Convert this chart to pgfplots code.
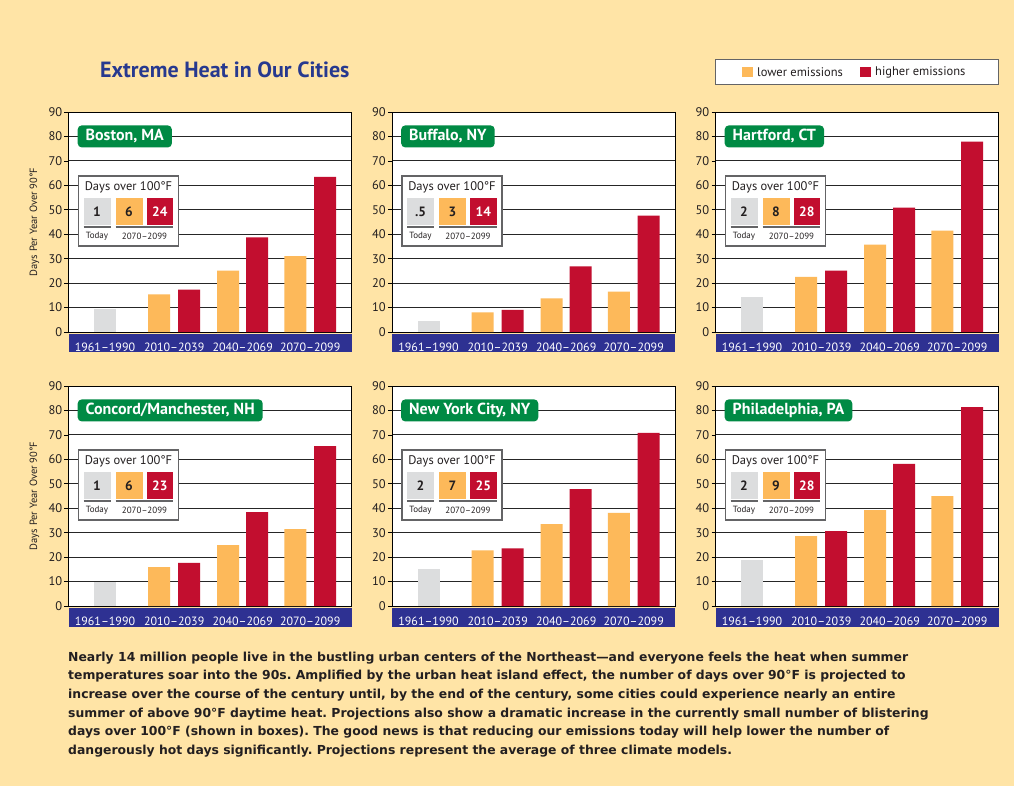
\documentclass[border=0pt]{standalone}
\usepackage{pgfplots}
\pgfplotsset{compat=1.18}
\usepackage{fontspec}
\setmainfont{PT Sans}
\newfontfamily\parafont{DejaVu Sans}

\definecolor{bg}{RGB}{255,228,166}
\definecolor{bandblue}{RGB}{46,49,146}
\definecolor{titleblue}{RGB}{39,57,143}
\definecolor{labelgreen}{RGB}{0,138,68}
\definecolor{barorange}{RGB}{253,185,90}
\definecolor{barred}{RGB}{194,14,47}
\definecolor{bargray}{RGB}{220,221,222}
\definecolor{textdark}{RGB}{35,31,32}
\definecolor{boxgray}{RGB}{100,100,102}

\newcommand{\fs}[1]{\fontsize{#1}{#1}\selectfont}

\pgfplotsset{
  panel/.style={
    scale only axis, width=283bp, height=220bp,
    xmin=0, xmax=283, ymin=0, ymax=90,
    ytick={0,10,...,90},
    xtick={36.5,105.7,174.2,241.7},
    xticklabels={1961--1990,2010--2039,2040--2069,2070--2099},
    xtick style={draw=none},
    ytick pos=left,
    tick align=outside, major tick length=4bp,
    ytick style={black, line width=0.8bp},
    ymajorgrids, grid style={black!85, line width=1bp},
    axis line style={black, line width=1bp},
    axis background/.style={fill=white},
    /pgf/number format/assume math mode=true,
    yticklabel style={font=\fs{12.5bp}, text=textdark, inner sep=2bp},
    xticklabel style={font=\fs{12bp}, text=white, anchor=base, yshift=-15.5bp, inner sep=0pt},
    ylabel style={font=\fs{10.5bp}, text=textdark},
    ylabel shift=4bp,
    clip=false,
  },
  cbar/.style={ybar, bar width=22, bar shift=0pt, draw=none, fill=#1},
}

% gray (1961-1990), lower emissions x3, higher emissions x3
\newcommand{\cityplots}[7]{%
  \addplot[cbar=bargray] coordinates {(36.5,#1)};
  \addplot[cbar=barorange] coordinates {(90.7,#2) (159.7,#3) (226.8,#4)};
  \addplot[cbar=barred] coordinates {(120.7,#5) (188.7,#6) (256.7,#7)};
}

\tikzset{
  citybox/.style={anchor=west, fill=labelgreen, rounded corners=4bp, text=white,
    font=\bfseries\fs{16bp}, inner xsep=8bp, inner ysep=0pt, minimum height=22bp},
}

% city label and "Days over 100F" box, placed from the axis' top left corner
\newcommand{\inset}[5]{%
  \begin{scope}[shift={(#1.north west)}]
    \node[citybox] at (9bp,-24.4bp) {#2};
    \draw[draw=boxgray, line width=1.2bp, fill=white] (10bp,-64bp) rectangle (110bp,-134bp);
    \node[font=\fs{12.5bp}, text=textdark] at (60bp,-75.7bp) {Days over 100°F};
    \fill[bargray] (15bp,-86.3bp) rectangle (42bp,-113bp);
    \fill[barorange] (47bp,-86.3bp) rectangle (74bp,-113bp);
    \fill[barred] (78bp,-86.3bp) rectangle (104.7bp,-113bp);
    \node[font=\bfseries\fs{13.5bp}, text=textdark] at (28.5bp,-99.6bp) {#3};
    \node[font=\bfseries\fs{13.5bp}, text=textdark] at (60.5bp,-99.6bp) {#4};
    \node[font=\bfseries\fs{13.5bp}, text=white] at (91.3bp,-99.6bp) {#5};
    \draw[boxgray, line width=1.5bp] (15bp,-115.2bp) -- (42bp,-115.2bp);
    \draw[boxgray, line width=1.5bp] (47bp,-115.2bp) -- (104.7bp,-115.2bp);
    \node[font=\fs{9bp}, text=textdark] at (28.5bp,-124bp) {Today};
    \node[font=\fs{9bp}, text=textdark] at (76bp,-124bp) {2070--2099};
  \end{scope}
}

\begin{document}
\frenchspacing
\begin{tikzpicture}
\fill[bg] (0,0) rectangle (1014bp,-786bp);
\useasboundingbox (0,0) rectangle (1014bp,-786bp);

% title
\node[anchor=west, font=\bfseries\fs{22bp}, text=titleblue, inner sep=0pt] at (100bp,-70bp) {Extreme Heat in Our Cities};

% legend
\draw[boxgray, line width=1bp, fill=white] (715bp,-59bp) rectangle (998bp,-84bp);
\fill[barorange] (742bp,-67bp) rectangle (753bp,-77bp);
\node[anchor=west, font=\fs{12.5bp}, text=textdark, inner sep=0pt] at (757bp,-72bp) {lower emissions};
\fill[barred] (860bp,-67bp) rectangle (871bp,-77bp);
\node[anchor=west, font=\fs{12.5bp}, text=textdark, inner sep=0pt] at (875bp,-72bp) {higher emissions};

% blue bands under the panels
\foreach \l in {68.5,392,715.5} {
  \fill[bandblue] (\l bp,-334bp) rectangle ({\l bp+283bp},-352bp);
  \fill[bandblue] (\l bp,-608bp) rectangle ({\l bp+283bp},-627bp);
}

\begin{axis}[panel, name=p1, at={(68.5bp,-332bp)}, anchor=south west,
  ylabel={Days Per Year Over 90°F}]
  \cityplots{9.5}{15.4}{25.1}{31.0}{17.3}{38.7}{63.5}
\end{axis}
\begin{axis}[panel, name=p2, at={(392bp,-332bp)}, anchor=south west]
  \cityplots{4.4}{8.0}{13.8}{16.5}{9.1}{26.9}{47.6}
\end{axis}
\begin{axis}[panel, name=p3, at={(715.5bp,-332bp)}, anchor=south west]
  \cityplots{14.5}{22.6}{35.7}{41.5}{25.1}{50.9}{77.9}
\end{axis}
\begin{axis}[panel, name=p4, at={(68.5bp,-606bp)}, anchor=south west,
  ylabel={Days Per Year Over 90°F}]
  \cityplots{9.9}{15.9}{24.9}{31.5}{17.6}{38.4}{65.4}
\end{axis}
\begin{axis}[panel, name=p5, at={(392bp,-606bp)}, anchor=south west]
  \cityplots{15.0}{22.8}{33.5}{38.1}{23.6}{47.8}{70.8}
\end{axis}
\begin{axis}[panel, name=p6, at={(715.5bp,-606bp)}, anchor=south west]
  \cityplots{18.7}{28.6}{39.2}{45.0}{30.6}{58.1}{81.4}
\end{axis}

\inset{p1}{Boston, MA}{1}{6}{24}
\inset{p2}{Buffalo, NY}{.5}{3}{14}
\inset{p3}{Hartford, CT}{2}{8}{28}
\inset{p4}{Concord/Manchester, NH}{1}{6}{23}
\inset{p5}{New York City, NY}{2}{7}{25}
\inset{p6}{Philadelphia, PA}{2}{9}{28}

% caption paragraph
\node[anchor=north west, align=left, inner sep=0pt, text=textdark,
  font=\parafont\bfseries\fontsize{12.4bp}{18.7bp}\selectfont] at (68bp,-651.5bp) {%
Nearly 14 million people live in the bustling urban centers of the Northeast—and everyone feels the heat when summer\\
temperatures soar into the 90s. Amplified by the urban heat island effect, the number of days over 90°F is projected to\\
increase over the course of the century until, by the end of the century, some cities could experience nearly an entire\\
summer of above 90°F daytime heat. Projections also show a dramatic increase in the currently small number of blistering\\
days over 100°F (shown in boxes). The good news is that reducing our emissions today will help lower the number of\\
dangerously hot days significantly. Projections represent the average of three climate models.};
\end{tikzpicture}
\end{document}
